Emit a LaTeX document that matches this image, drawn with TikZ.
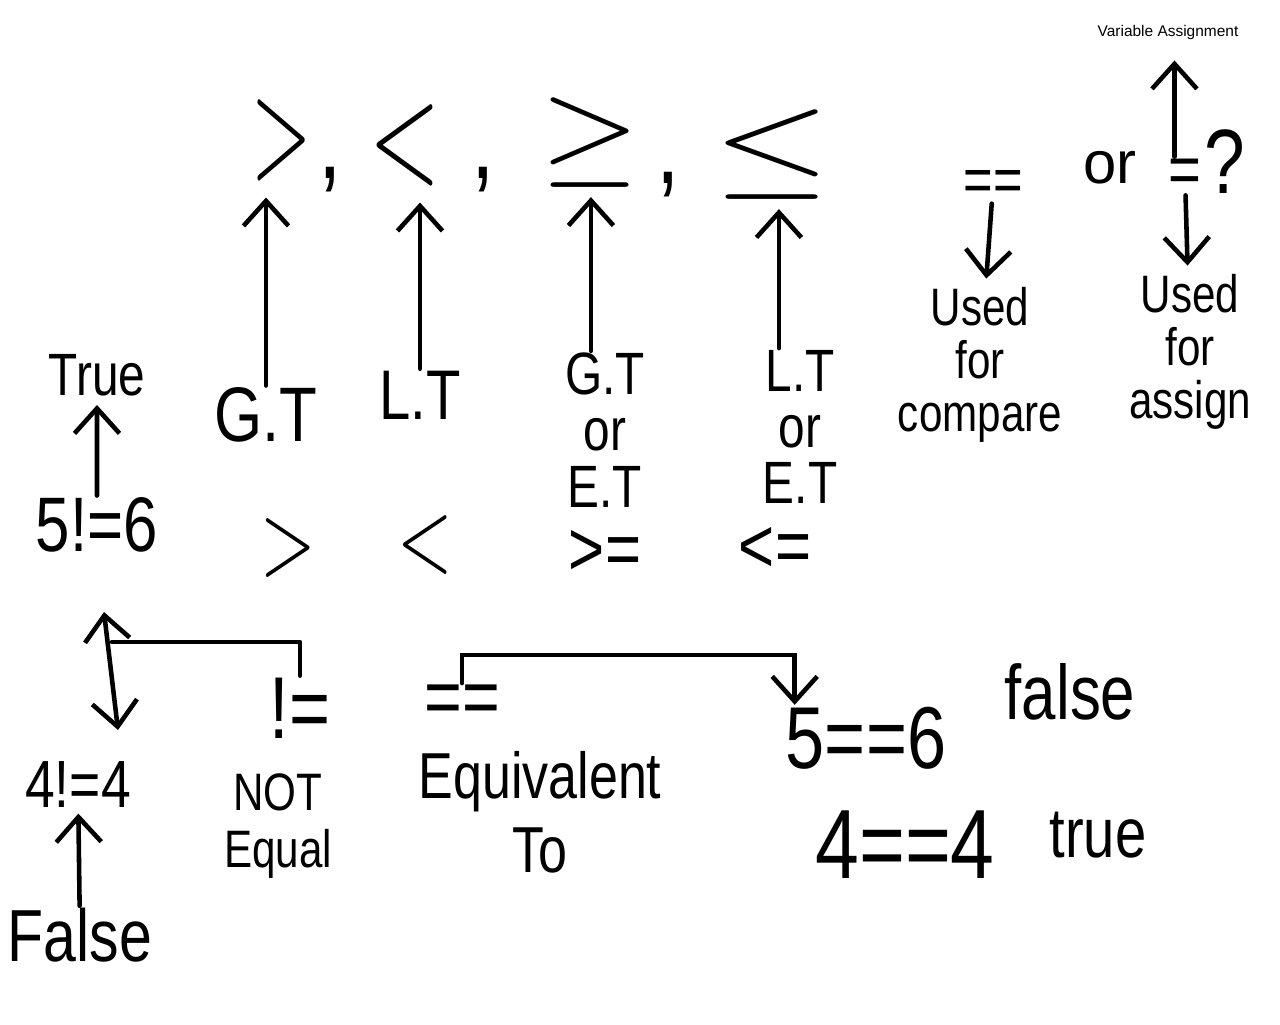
\documentclass[tikz,border=0pt]{standalone}
\usepackage{fontspec}
\setmainfont{Liberation Sans}
\usepackage{tikz}
\usetikzlibrary{arrows.meta,positioning}
\newcommand{\penfont}[2]{\fontsize{#1}{#2}\selectfont}

\begin{document}
\begin{tikzpicture}[
  x=0.02cm,y=-0.02cm,
  hand/.style={inner sep=1pt,xscale=0.8},
  glyph/.style={inner sep=0pt,font=\normalsize},
  arr/.style={-{Straight Barb[length=5mm,width=9mm]},line width=2.6pt,line cap=round},
  dblarr/.style={{Straight Barb[length=5mm,width=9mm]}-{Straight Barb[length=5mm,width=9mm]},line width=2.6pt,line cap=round},
  link/.style={line width=2.6pt,line join=round,line cap=round}
]
  \fill[white] (0,0) rectangle (1280,1024);
  \useasboundingbox (0,0) rectangle (1280,1024);
  % comparison symbols, top row
  \node[glyph,scale=8,xscale=0.55] (gt) at (282,140) {$>$};
  \node[hand,font=\penfont{60}{60}] (comma1) at (330,180) {,};
  \node[glyph,scale=8,xscale=0.65] (lt) at (405,145) {$<$};
  \node[hand,font=\penfont{60}{60}] (comma2) at (483,180) {,};
  \node[glyph,scale=6.6,xscale=1.1] (ge) at (590,143) {$\geq$};
  \node[hand,font=\penfont{60}{60}] (comma3) at (668,185) {,};
  \node[glyph,scale=6.6,xscale=1.3] (le) at (772,155) {$\leq$};
  % their names
  \node[hand,font=\penfont{44}{44}] (gtlab) at (266,415) {G.T};
  \node[hand,font=\penfont{40}{40}] (ltlab) at (420,395) {L.T};
  \node[hand,font=\penfont{34}{32},align=center] (gelab) at (605,430) {G.T\\or\\E.T};
  \node[hand,font=\penfont{34}{32},align=center] (lelab) at (800,427) {L.T\\or\\E.T};
  \draw[arr,shorten >=8pt] (gtlab) -- (gtlab |- gt.south);
  \draw[arr,shorten >=8pt] (ltlab) -- (ltlab |- lt.south);
  \draw[arr,shorten >=4pt] ([xshift=-8pt]gelab.north) -- ([xshift=-8pt]gelab.north |- ge.south);
  \draw[arr,shorten >=4pt] ([xshift=-12pt]lelab.north) -- ([xshift=-12pt]lelab.north |- le.south);
  % == or = ?
  \node[hand,font=\penfont{36}{36}] (cmpeq) at (993,186) {==};
  \node[inner sep=1pt,font=\penfont{34}{34}] (orword) at (1110,168) {or};
  \node[hand,font=\penfont{40}{40}] (assign) at (1185,176) {=};
  \node[hand,font=\penfont{52}{52},right=0pt of assign,yshift=8pt] (qmark) {?};
  \node[font=\penfont{8.8}{10}] (varasg) at (1168,33) {Variable Assignment};
  \node[hand,font=\penfont{30}{30},align=center] (usecmp) at (980,365) {Used\\for\\compare};
  \node[hand,font=\penfont{30}{30},align=center] (useasg) at (1190,352) {Used\\for\\assign};
  \draw[arr,shorten >=4pt] (cmpeq) -- (usecmp);
  \draw[arr,shorten >=8pt] ([xshift=-6pt]assign.north) -- ([xshift=-6pt]assign.north |- varasg.south);
  \draw[arr,shorten >=4pt] (assign) -- (useasg);
  % not equal examples
  \node[hand,font=\penfont{34}{34}] (truelab) at (97,375) {True};
  \node[hand,font=\penfont{44}{44}] (neq56) at (97,525) {5!=6};
  \draw[arr,shorten >=4pt] (neq56) -- (truelab);
  \node[hand,font=\penfont{38}{38}] (neq44) at (78,785) {4!=4};
  \node[hand,font=\penfont{42}{42}] (falselab) at (80,935) {False};
  \draw[arr,shorten >=2pt] (falselab) -- (neq44);
  % symbols as typed
  \node[glyph,scale=5.8,xscale=0.7] (gtsym) at (288,548) {$>$};
  \node[glyph,scale=5.8,xscale=0.7] (ltsym) at (425,545) {$<$};
  \node[hand,font=\penfont{44}{44}] (gesym) at (605,553) {>=};
  \node[hand,font=\penfont{44}{44}] (lesym) at (775,550) {<=};
  % != and ==
  \node[hand,font=\penfont{50}{50}] (neqsym) at (300,708) {!=};
  \node[hand,font=\penfont{30}{32},align=center] (neqlab) at (278,826) {NOT\\Equal};
  \node[hand,font=\penfont{46}{46}] (eqv) at (462,705) {==};
  \node[hand,font=\penfont{37}{42},align=center] (eqvlab) at (540,812) {Equivalent\\To};
  \node[hand,font=\penfont{50}{50}] (eq56) at (866,738) {5==6};
  \node[hand,font=\penfont{44}{44}] (falsew) at (1070,692) {false};
  \node[hand,font=\penfont{56}{56}] (eq44) at (905,845) {4==4};
  \node[hand,font=\penfont{40}{40}] (truew) at (1098,835) {true};
  \coordinate (jn) at (112,642);
  \coordinate (jtop) at (104,612);
  \coordinate (jbot) at (118,730);
  \draw[link] (neqsym.north) |- (jn);
  \draw[dblarr] (jtop) -- (jbot);
  \draw[arr] (eqv.north) -- ++(0,-28) -| ([xshift=6pt]eq56.north west);
\end{tikzpicture}
\end{document}
